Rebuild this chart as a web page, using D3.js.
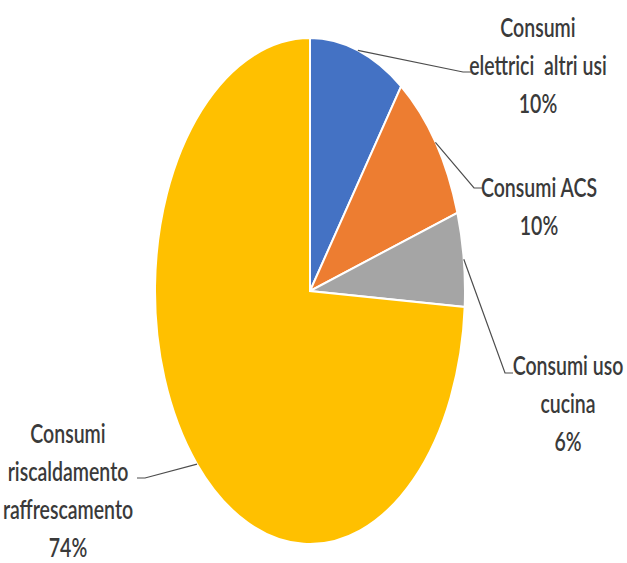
<!DOCTYPE html>
<html>
<head>
<meta charset="utf-8">
<script src="https://cdn.jsdelivr.net/npm/d3@7"></script>
<style>
  body { margin: 0; background: #fff; }
  svg { display: block; }
</style>
</head>
<body>
<svg></svg>
<script>
const w = 627;
const h = 563;

// data
const categories = [
  'Consumi elettrici altri usi',
  'Consumi ACS',
  'Consumi uso cucina',
  'Consumi riscaldamento raffrescamento'
];
const values = [10, 10, 6, 74];
const labelLines = [
  ['Consumi', 'elettrici  altri usi', '10%'],
  ['Consumi ACS', '10%'],
  ['Consumi uso', 'cucina', '6%'],
  ['Consumi', 'riscaldamento', 'raffrescamento', '74%']
];
const colors = ['#4472C4', '#ED7D31', '#A5A5A5', '#FFC000'];

// layout of the labels (centre x, first baseline y, leader end, line it hooks to)
const labelPos = [
  { x: 538, y: 37, lx: 471, ly: 72 },
  { x: 539, y: 197, lx: 482, ly: 188 },
  { x: 568, y: 375, lx: 513, ly: 373 },
  { x: 68, y: 443, lx: 137, ly: 478 }
];

const cx = 310;
const cy = 291;
const ry = 253;
const rx = 155;
const sx = rx / ry;

const svg = d3.select('svg').attr('width', w).attr('height', h);

const pie = d3.pie().sort(null).value(d => d);
const arcs = pie(values);
const arc = d3.arc().innerRadius(0).outerRadius(ry);

const g = svg
  .append('g')
  .attr('transform', `translate(${cx},${cy}) scale(${sx},1)`);

g.selectAll('path')
  .data(arcs)
  .enter()
  .append('path')
  .attr('d', arc)
  .attr('fill', (d, i) => colors[i])
  .attr('stroke', '#fff')
  .attr('stroke-width', 2)
  .attr('vector-effect', 'non-scaling-stroke');

// leader lines, starting at mid angle on the pie edge
arcs.forEach((d, i) => {
  const a = (d.startAngle + d.endAngle) / 2;
  const px = cx + rx * Math.sin(a);
  const py = cy - ry * Math.cos(a);
  const p = labelPos[i];
  const dir = p.lx > px ? 1 : -1;
  const ex = p.lx - dir * 8;
  svg
    .append('polyline')
    .attr('points', `${px},${py} ${ex},${p.ly} ${p.lx},${p.ly}`)
    .attr('fill', 'none')
    .attr('stroke', '#4d4d4d')
    .attr('stroke-width', 1.2);
});

// labels
const lineH = 38;
const squeeze = 0.75;
labelLines.forEach((lines, i) => {
  const p = labelPos[i];
  const t = svg
    .append('text')
    .attr('transform', `translate(${p.x},${p.y}) scale(${squeeze},1)`)
    .attr('text-anchor', 'middle')
    .attr('font-family', 'Lato, "Open Sans", sans-serif')
    .attr('font-size', 26)
    .attr('font-weight', 600)
    .attr('fill', '#3a3a3a');
  lines.forEach((s, j) => {
    t.append('tspan')
      .attr('x', 0)
      .attr('y', j * lineH)
      .attr('xml:space', 'preserve')
      .text(s);
  });
});
</script>
</body>
</html>
